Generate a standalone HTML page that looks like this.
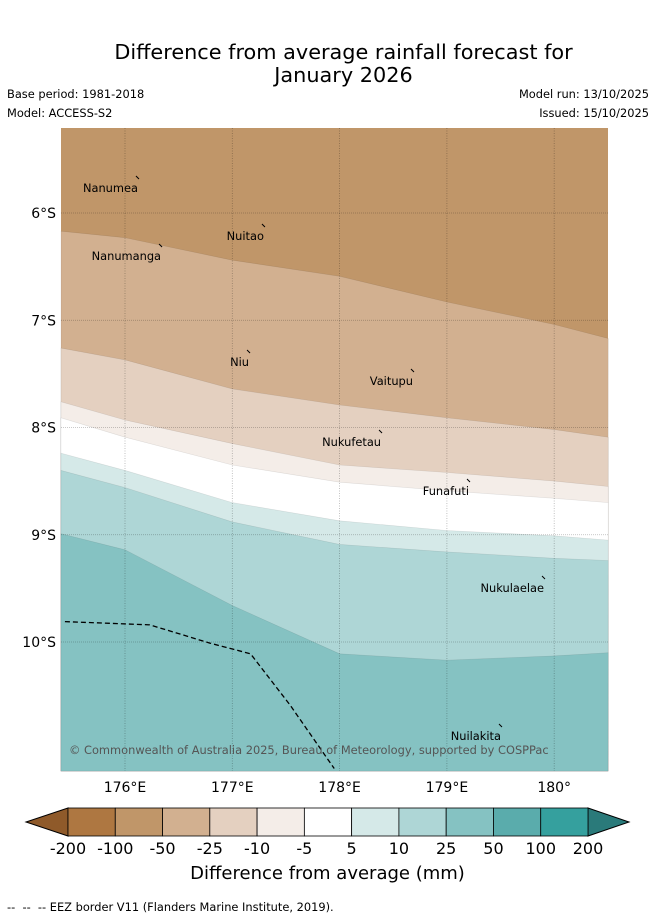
<!DOCTYPE html>
<html><head><meta charset="utf-8"><style>
body{margin:0;background:#fff;font-family:"DejaVu Sans","Liberation Sans",sans-serif;}
#wrap{position:relative;width:655px;height:919px;overflow:hidden}
.t{position:absolute;color:#000;white-space:nowrap}
</style></head><body>
<div id="wrap">
<div class="t" style="left:0;width:687px;text-align:center;top:41px;font-size:20.8px;line-height:23px">Difference from average rainfall forecast for<br>January 2026</div>
<div class="t" style="left:7px;top:87px;font-size:11.4px">Base period: 1981-2018</div>
<div class="t" style="left:7px;top:106px;font-size:11.4px">Model: ACCESS-S2</div>
<div class="t" style="right:6px;top:87px;font-size:11.4px">Model run: 13/10/2025</div>
<div class="t" style="right:6px;top:106px;font-size:11.4px">Issued: 15/10/2025</div>
<svg id="map" width="655" height="919" style="position:absolute;left:0;top:0"></svg>
<div class="t" style="left:0;width:655px;text-align:center;top:863px;font-size:18px">Difference from average (mm)</div>
<div class="t" style="left:7px;top:900px;font-size:11.4px">-- &nbsp;-- &nbsp;-- EEZ border V11 (Flanders Marine Institute, 2019).</div>
</div>
<script>
const lons=[175.404,176,177,178,179,180,180.503];
const b1=[-6.17,-6.23,-6.44,-6.59,-6.83,-7.04,-7.17];
const b2=[-7.26,-7.37,-7.64,-7.79,-7.91,-8.02,-8.09];
const b3=[-7.76,-7.93,-8.15,-8.35,-8.42,-8.50,-8.55];
const b4=[-7.91,-8.09,-8.35,-8.51,-8.59,-8.66,-8.70];
const b5=[-8.24,-8.40,-8.70,-8.87,-8.96,-9.01,-9.05];
const b6=[-8.40,-8.56,-8.88,-9.09,-9.16,-9.22,-9.24];
const b7=[-8.99,-9.14,-9.66,-10.11,-10.17,-10.13,-10.10];
const bounds=[b1,b2,b3,b4,b5,b6,b7];
const bandColors=['#d2b090','#e4d0c0','#f4ede8','#ffffff','#d5e9e8','#aed6d6','#85c2c2'];
const eezLon=[175.44,176.23,176.79,177.17,177.54,177.95];
const eezLat=[-9.81,-9.84,-10.01,-10.11,-10.59,-11.18];
const lonTicks=[176,177,178,179,180];
const lonLabels=['176°E','177°E','178°E','179°E','180°'];
const latTicks=[-6,-7,-8,-9,-10];
const latLabels=['6°S','7°S','8°S','9°S','10°S'];
const places=['Nanumea','Nuitao','Nanumanga','Niu','Vaitupu','Nukufetau','Funafuti','Nukulaelae','Nuilakita'];
const placeLon=[176.121,177.295,176.336,177.156,178.684,178.386,179.206,179.905,179.504];
const placeLat=[-5.674,-6.121,-6.308,-7.296,-7.473,-8.042,-8.499,-9.403,-10.783];
const cbLabels=['-200','-100','-50','-25','-10','-5','5','10','25','50','100','200'];
const cbColors=['#ae7741','#c09669','#d2b090','#e4d0c0','#f4ede8','#ffffff','#d5e9e8','#aed6d6','#85c2c2','#5aacac','#35a09e'];
const X0=61,X1=608,Y0=128,Y1=771;
const x=l=>125+(l-176)*107.3;
const y=la=>213-(la+6)*107.25;
const svg=document.getElementById('map');
const NS='http://www.w3.org/2000/svg';
function mk(tag,at){const e=document.createElementNS(NS,tag);for(const k in at)e.setAttribute(k,at[k]);svg.appendChild(e);return e;}
let bg=mk('rect',{x:X0,y:Y0,width:X1-X0,height:Y1-Y0,fill:'#c09669'});


bounds.forEach((b,i)=>{
 let d='M'+lons.map((l,j)=>x(l).toFixed(1)+','+y(b[j]).toFixed(1)).join(' L')+` L${X1},${Y1} L${X0},${Y1} Z`;
 let p=mk('path',{d:d,fill:bandColors[i],stroke:'rgba(0,0,0,0.1)','stroke-width':0.6});
 
 
});
lonTicks.forEach((l,i)=>{
 let g=mk('line',{x1:x(l),x2:x(l),y1:Y0,y2:Y1,stroke:'rgba(0,0,0,0.3)','stroke-width':0.8,'stroke-dasharray':'1,1.5'});
 
 
 let t=mk('text',{x:x(l),y:792,'font-size':14,'text-anchor':'middle'});t.textContent=lonLabels[i];
 
 
});
latTicks.forEach((la,i)=>{
 let g=mk('line',{x1:X0,x2:X1,y1:y(la),y2:y(la),stroke:'rgba(0,0,0,0.28)','stroke-width':0.8,'stroke-dasharray':'1,1'});
 
 
 let t=mk('text',{x:56,y:y(la)+5,'font-size':14,'text-anchor':'end'});t.textContent=latLabels[i];
 
 
});
let eez=mk('polyline',{points:eezLon.map((l,j)=>x(l)+','+y(eezLat[j])).join(' '),fill:'none',stroke:'#000','stroke-width':1.3,'stroke-dasharray':'5,3'});


places.forEach((n,i)=>{
 let px=x(placeLon[i]),py=y(placeLat[i]);
 let m=mk('path',{d:`M${px-2},${py-2} l3,3`,stroke:'#000','stroke-width':1,fill:'none'});
 
 
 let t=mk('text',{x:px,y:py+14,'font-size':11.4,'text-anchor':'end'});t.textContent=n;
 
 
});
let cr=mk('text',{x:69,y:754,'font-size':11.4,fill:'#555'});cr.textContent='© Commonwealth of Australia 2025, Bureau of Meteorology, supported by COSPPac';


const cx0=68,cw=(588-68)/11,cy=808,ch=28;
let lt=mk('path',{d:`M${cx0},${cy} L26,${cy+ch/2} L${cx0},${cy+ch} Z`,fill:'#8f5a2a',stroke:'#000','stroke-width':1});


let rt=mk('path',{d:`M${cx0+11*cw},${cy} L629,${cy+ch/2} L${cx0+11*cw},${cy+ch} Z`,fill:'#2a7a7a',stroke:'#000','stroke-width':1});


cbColors.forEach((c,i)=>{
 let r=mk('rect',{x:cx0+i*cw,y:cy,width:cw,height:ch,fill:c,stroke:'#000','stroke-width':0.8});
 
 
});
cbLabels.forEach((s,i)=>{
 let t=mk('text',{x:cx0+i*cw,y:854,'font-size':16,'text-anchor':'middle'});t.textContent=s;
 
 
});
</script>
</body></html>
